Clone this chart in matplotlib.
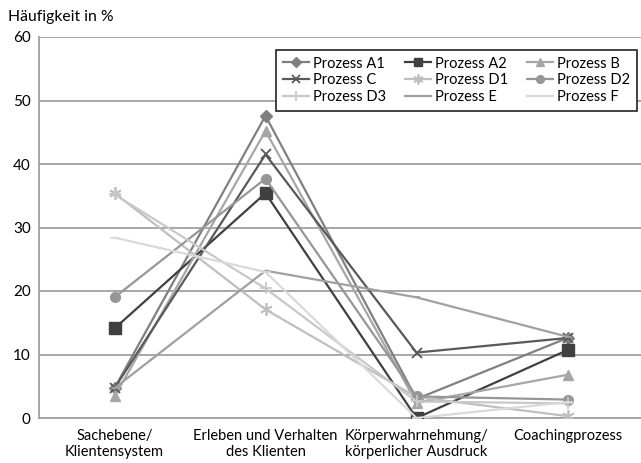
import matplotlib
matplotlib.use("Agg")
import matplotlib.pyplot as plt

plt.rcParams['font.family'] = ['Lato', 'DejaVu Sans']

categories = ["Sachebene/\nKlientensystem", "Erleben und Verhalten\ndes Klienten",
              "Körperwahrnehmung/\nkörperlicher Ausdruck", "Coachingprozess"]

prozess_a1 = [4.7, 47.6, 3.0, 12.6]
prozess_a2 = [14.1, 35.4, 0.0, 10.7]
prozess_b = [3.4, 45.2, 2.4, 6.8]
prozess_c = [4.7, 41.5, 10.3, 12.6]
prozess_d1 = [35.4, 17.1, 3.3, 0.3]
prozess_d2 = [19.0, 37.7, 3.4, 2.9]
prozess_d3 = [35.2, 20.4, 2.6, 2.3]
prozess_e = [4.7, 23.2, 19.0, 12.8]
prozess_f = [28.4, 23.0, 0.0, 2.5]

series = [
    ("Prozess A1", prozess_a1, "#808080", "D", 6),
    ("Prozess A2", prozess_a2, "#404040", "s", 8),
    ("Prozess B", prozess_b, "#a6a6a6", "^", 7),
    ("Prozess C", prozess_c, "#595959", "x", 7),
    ("Prozess D1", prozess_d1, "#bfbfbf", (6, 2, 0), 9),
    ("Prozess D2", prozess_d2, "#969696", "o", 7),
    ("Prozess D3", prozess_d3, "#c8c8c8", "+", 9),
    ("Prozess E", prozess_e, "#a0a0a0", "_", 5),
    ("Prozess F", prozess_f, "#d9d9d9", "_", 7),
]

fig = plt.figure(figsize=(6.41, 4.63), dpi=100)
ax = fig.add_axes([39 / 641, 45 / 463, 604 / 641, 381 / 463])

x = list(range(len(categories)))
handles = []
for name, vals, color, marker, ms in series:
    mew = 1.3 if marker in ("x", "+", "_", (6, 2, 0)) else 1.0
    h, = ax.plot(x, vals, color=color, marker=marker, markersize=ms, linewidth=1.6,
                 markeredgewidth=mew, markeredgecolor=color, markerfacecolor=color,
                 label=name, zorder=3)
    handles.append(h)

ax.set_xlim(-0.5, 3.5)
ax.set_ylim(0, 60)
ax.set_yticks(range(0, 61, 10))
ax.set_xticks(x)
ax.set_xticklabels(categories, fontsize=10.5, linespacing=1.2)
ax.tick_params(axis='y', labelsize=11, length=0, pad=6)
ax.tick_params(axis='x', length=0, pad=8)
ax.yaxis.grid(True, color="#a0a0a0", linewidth=1.3, zorder=0)
ax.set_axisbelow(True)
for side in ("top", "right"):
    ax.spines[side].set_visible(False)
ax.spines["left"].set_color("#a0a0a0")
ax.spines["left"].set_linewidth(1.3)
ax.spines["bottom"].set_color("#a0a0a0")
ax.spines["bottom"].set_linewidth(1.3)

fig.text(8 / 641, 1 - 17 / 463, "Häufigkeit in %", fontsize=11.3, va="center", ha="left")

# legend entries laid out row by row (matplotlib fills columns first)
order = [0, 3, 6, 1, 4, 7, 2, 5, 8]
leg = ax.legend([handles[i] for i in order], [series[i][0] for i in order],
                loc="upper right", bbox_to_anchor=(637 / 641, 1 - 50 / 463),
                bbox_transform=fig.transFigure, ncol=3, fontsize=10.5, frameon=True,
                fancybox=False, framealpha=1, edgecolor="#222222",
                handlelength=1.8, handletextpad=0.3, columnspacing=1.25,
                labelspacing=0.2, borderpad=0.45, borderaxespad=0, markerscale=0.8)
leg.get_frame().set_linewidth(1.2)

fig.savefig("out.png", dpi=100)
